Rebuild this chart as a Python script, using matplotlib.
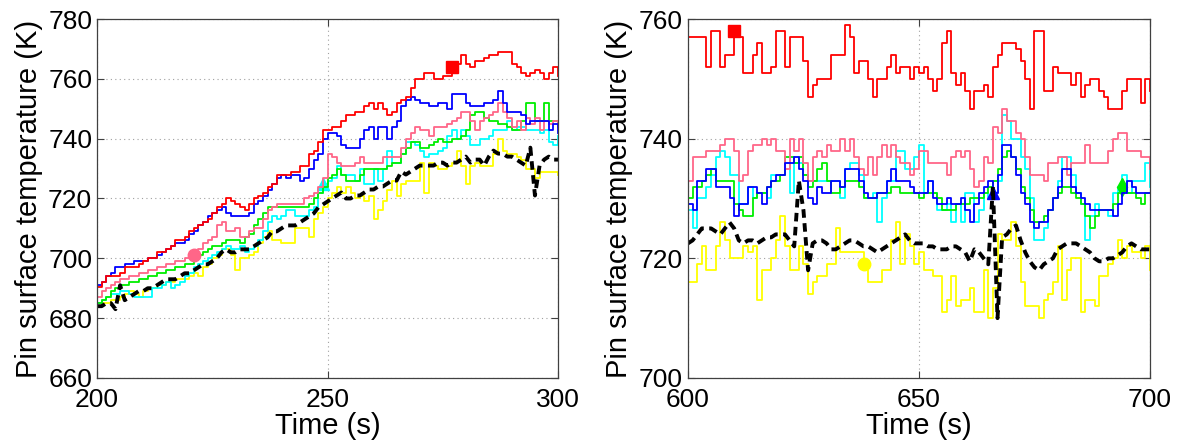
import numpy as np
import matplotlib
matplotlib.use('Agg')
import matplotlib.pyplot as plt

plt.rcParams['font.family'] = ['Liberation Sans', 'DejaVu Sans']

# time axes (s)
t_early = np.arange(200, 301)
t_late = np.arange(600, 701)

# pin surface temperature (K), 200-300 s
red_early = [690.5, 692, 694, 694, 694, 695, 697, 697, 697, 698,
             699, 700, 700, 702, 702, 703, 704, 706, 706, 707,
             709, 710, 711, 712, 713, 715, 717, 718, 720, 719,
             718, 717, 716, 718, 720, 721, 722, 724, 725, 728,
             728, 728, 729, 729, 731, 731, 735, 736, 739, 743,
             743, 744, 744, 746, 748, 748, 749, 749, 751, 752,
             750, 752, 750, 748, 749, 752, 753, 754, 757, 760,
             760, 762, 762, 760, 760, 761, 761, 764, 765, 768,
             765, 764, 766, 766, 767, 768, 768, 769, 769, 769,
             765, 764, 762, 761, 762, 763, 762, 760, 762, 764,
             761]
blue_early = [691, 692, 694, 695, 697, 697, 698, 698, 699, 699,
              699, 700, 700, 701, 702, 703, 704, 705, 705, 706,
              708, 709, 711, 712, 714, 715, 716, 717, 715, 714,
              714, 714, 714, 715, 718, 719, 721, 723, 725, 727,
              728, 727, 728, 728, 726, 727, 730, 733, 735, 740,
              742, 742, 741, 738, 737, 737, 737, 740, 743, 744,
              740, 744, 744, 740, 744, 746, 751, 753, 754, 753,
              752, 752, 751, 751, 752, 752, 750, 755, 755, 755,
              752, 751, 751, 751, 752, 752, 753, 756, 752, 749,
              749, 749, 748, 745, 746, 746, 746, 746, 743, 745,
              742]
pink_early = [687, 689, 690, 691, 692, 693, 693, 694, 694, 695,
              695, 696, 696, 697, 697, 698, 698, 699, 699, 700,
              701, 701, 703, 705, 706, 707, 711, 712, 709, 709,
              710, 707, 707, 709, 710, 710, 713, 716, 717, 718,
              718, 718, 718, 718, 718, 720, 721, 722, 724, 727,
              735, 734, 732, 731, 731, 731, 732, 734, 732, 732,
              732, 732, 734, 734, 734, 734, 737, 740, 742, 744,
              743, 743, 741, 744, 744, 744, 745, 746, 747, 749,
              749, 746, 743, 746, 747, 748, 749, 752, 749, 747,
              744, 746, 743, 747, 745, 747, 743, 746, 745, 746,
              744]
green_early = [685, 686, 687, 689, 690, 691, 691, 692, 692, 693,
               693, 694, 694, 695, 695, 696, 696, 697, 697, 698,
               698, 700, 701, 702, 703, 704, 704, 705, 706, 706,
               706, 705, 707, 708, 711, 713, 715, 717, 717, 717,
               717, 717, 717, 717, 717, 717, 718, 720, 722, 724,
               727, 728, 730, 728, 726, 726, 726, 728, 730, 730,
               730, 730, 730, 731, 732, 732, 735, 737, 739, 739,
               737, 737, 738, 739, 740, 739, 739, 740, 740, 741,
               743, 748, 749, 749, 747, 746, 746, 745, 745, 744,
               743, 743, 746, 752, 752, 746, 746, 752, 746, 746,
               745]
cyan_early = [685, 686, 687, 688, 688, 689, 689, 688, 687, 687,
              687, 687, 690, 690, 691, 692, 690, 691, 692, 694,
              695, 697, 698, 699, 700, 701, 702, 703, 704, 703,
              703, 704, 702, 703, 704, 706, 709, 712, 714, 713,
              714, 716, 716, 714, 714, 714, 716, 717, 722, 725,
              726, 727, 731, 728, 728, 728, 726, 730, 725, 725,
              730, 726, 730, 736, 732, 732, 735, 739, 739, 738,
              736, 734, 735, 735, 736, 737, 741, 743, 740, 743,
              741, 738, 738, 740, 740, 741, 743, 743, 743, 746,
              743, 744, 744, 743, 743, 743, 742, 743, 739, 738,
              741]
yellow_early = [684, 685, 685, 686, 686, 687, 688, 689, 688, 687,
                689, 690, 690, 691, 691, 692, 692, 693, 693, 693,
                694, 695, 694, 697, 698, 700, 701, 703, 703, 701,
                696, 700, 700, 701, 702, 705, 707, 709, 706, 706,
                705, 705, 705, 710, 710, 710, 707, 713, 715, 717,
                720, 722, 724, 722, 724, 722, 720, 721, 719, 721,
                713, 716, 719, 723, 726, 721, 725, 726, 726, 726,
                732, 722, 732, 731, 730, 730, 731, 732, 736, 731,
                725, 731, 732, 731, 731, 731, 735, 740, 736, 735,
                735, 734, 733, 730, 730, 727, 729, 729, 729, 729,
                728]
mean_early = [684, 684, 685, 685, 683, 691, 686, 687, 688, 689,
              689, 690, 690, 691, 692, 693, 693, 693, 694, 695,
              695, 696, 697, 698, 698, 699, 700, 702, 703, 702,
              702, 703, 703, 703, 704, 705, 706, 707, 709, 709,
              710, 711, 711, 711, 712, 713, 714, 715, 717, 718,
              719, 720, 721, 722, 720, 720, 721, 721, 722, 723,
              723, 724, 724, 725, 726, 726, 729, 728, 729, 730,
              731, 731, 731, 731, 732, 732, 731, 732, 732, 733,
              734, 732, 733, 733, 731, 734, 736, 735, 735, 734,
              734, 733, 732, 731, 737, 721, 731, 733, 734, 733,
              733]

# pin surface temperature (K), 600-700 s
red_late = [757, 757, 757, 757, 752, 758, 758, 752, 754, 754,
            758, 757, 751, 751, 754, 756, 751, 751, 752, 758,
            758, 752, 757, 757, 757, 753, 747, 749, 750, 750,
            750, 754, 754, 754, 759, 757, 751, 753, 753, 750,
            747, 750, 750, 752, 754, 751, 752, 752, 750, 752,
            751, 752, 750, 748, 750, 756, 758, 751, 749, 751,
            748, 745, 748, 748, 749, 747, 752, 754, 756, 756,
            756, 755, 753, 750, 745, 758, 758, 748, 748, 752,
            751, 751, 751, 749, 751, 747, 749, 750, 750, 748,
            747, 745, 745, 745, 748, 750, 750, 750, 746, 750,
            748]
pink_late = [733, 737, 737, 737, 738, 738, 738, 739, 740, 740,
             738, 733, 734, 738, 739, 739, 740, 739, 740, 738,
             738, 735, 740, 738, 740, 736, 733, 737, 738, 737,
             739, 738, 738, 740, 738, 740, 737, 735, 734, 737,
             734, 737, 739, 737, 739, 737, 736, 736, 734, 735,
             738, 738, 736, 736, 736, 736, 734, 737, 738, 737,
             738, 735, 732, 733, 737, 736, 742, 741, 745, 743,
             743, 741, 740, 737, 734, 734, 734, 733, 736, 736,
             737, 737, 734, 736, 736, 736, 739, 736, 736, 736,
             736, 738, 740, 741, 741, 738, 738, 738, 737, 737,
             735]
blue_late = [729, 728, 733, 733, 735, 735, 732, 732, 732, 730,
             727, 729, 729, 732, 732, 731, 729, 732, 733, 734,
             734, 736, 736, 737, 735, 733, 730, 729, 732, 731,
             731, 733, 733, 732, 735, 735, 735, 733, 731, 730,
             730, 731, 731, 733, 735, 733, 733, 733, 732, 731,
             731, 731, 733, 730, 729, 729, 730, 729, 729, 730,
             728, 726, 729, 731, 732, 733, 731, 734, 739, 739,
             737, 734, 731, 729, 726, 725, 726, 726, 728, 730,
             732, 735, 735, 732, 731, 730, 729, 728, 728, 728,
             728, 728, 727, 729, 731, 733, 732, 731, 731, 731,
             731]
green_late = [730, 732, 732, 733, 734, 735, 733, 733, 733, 733,
              729, 728, 727, 727, 730, 731, 731, 732, 733, 733,
              734, 737, 737, 736, 737, 734, 732, 733, 735, 736,
              733, 731, 731, 732, 733, 733, 733, 732, 730, 730,
              730, 731, 731, 731, 732, 732, 731, 731, 731, 731,
              730, 731, 731, 731, 730, 728, 728, 728, 729, 729,
              729, 730, 730, 730, 731, 732, 733, 735, 737, 738,
              737, 735, 732, 730, 728, 726, 726, 727, 728, 730,
              731, 732, 732, 731, 730, 729, 727, 725, 727, 728,
              728, 728, 729, 731, 732, 731, 731, 730, 729, 731,
              731]
cyan_late = [728, 725, 730, 730, 732, 734, 737, 738, 737, 734,
             734, 729, 729, 732, 730, 731, 731, 730, 734, 734,
             734, 736, 731, 736, 736, 734, 733, 733, 733, 733,
             733, 733, 733, 730, 735, 736, 736, 734, 730, 730,
             731, 726, 730, 733, 733, 738, 738, 735, 735, 737,
             739, 731, 733, 731, 728, 728, 729, 726, 729, 726,
             731, 731, 726, 728, 731, 730, 731, 733, 744, 743,
             740, 740, 737, 735, 730, 723, 723, 725, 728, 730,
             733, 737, 737, 734, 731, 729, 723, 727, 729, 728,
             728, 727, 731, 732, 734, 731, 733, 733, 733, 736,
             732]
yellow_late = [716, 716, 719, 722, 718, 718, 722, 726, 723, 720,
               720, 720, 722, 721, 722, 713, 718, 718, 720, 723,
               727, 722, 718, 718, 722, 719, 714, 716, 717, 717,
               719, 719, 725, 721, 721, 721, 721, 721, 719, 716,
               716, 716, 718, 718, 723, 726, 719, 724, 722, 719,
               721, 718, 718, 717, 717, 711, 713, 717, 712, 713,
               713, 715, 711, 711, 718, 710, 715, 724, 723, 723,
               726, 722, 716, 712, 712, 712, 710, 713, 714, 716,
               722, 713, 718, 720, 720, 711, 713, 713, 712, 717,
               717, 719, 720, 723, 720, 722, 721, 721, 720, 722,
               718]
mean_late = [722.5, 723, 724, 725, 725, 725, 724.5, 724, 725, 726,
             725, 723, 722.5, 723, 723, 722.5, 723, 723.5, 723.5, 724,
             724, 724, 723, 722, 733, 728, 718, 722.5, 723, 723,
             722.5, 721.5, 721.5, 722, 722.5, 723, 723, 722.5, 722, 722,
             721.5, 721, 721.5, 722, 722.5, 723, 723.5, 724, 723, 722.5,
             722.5, 722.5, 722, 722, 721.5, 721.5, 721.5, 722, 722, 721.5,
             721, 719.5, 721.5, 721, 720, 719, 732, 710, 723.5, 724,
             725, 725.5, 723, 721, 719.5, 718.5, 718, 719, 719.5, 720,
             721.5, 722, 722.5, 722.5, 722.5, 722, 721.5, 721, 720, 719.5,
             719.5, 720, 720, 720.5, 721, 722, 722.5, 722, 721.5, 721.5,
             721.5]

fig = plt.figure(figsize=(11.88, 4.45), dpi=100)
ax1 = fig.add_axes([0.0817, 0.1506, 0.388, 0.8067])
ax2 = fig.add_axes([0.5791, 0.1506, 0.3889, 0.8067])

colors = {'red': '#ff0000', 'blue': '#0000ff', 'green': '#00ee00',
          'pink': '#ff6688', 'cyan': '#00ffff', 'yellow': '#ffff00'}


def draw_panel(ax, t, series, marks):
    for name, vals in series:
        kw = {}
        if name in marks:
            mk, idx = marks[name]
            kw = dict(marker=mk, markevery=[idx], markersize=9,
                      markerfacecolor=colors[name], markeredgecolor=colors[name])
        ax.plot(t, vals, color=colors[name], lw=1.3, drawstyle='steps-post', **kw)


draw_panel(ax1, t_early,
           [('yellow', yellow_early), ('cyan', cyan_early), ('green', green_early),
            ('pink', pink_early), ('blue', blue_early), ('red', red_early)],
           {'red': ('s', 77), 'pink': ('o', 21), 'cyan': ('^', 49)})
ax1.plot(t_early, mean_early, color='black', lw=2.8, dashes=(2.2, 1.4))

draw_panel(ax2, t_late,
           [('yellow', yellow_late), ('cyan', cyan_late), ('green', green_late),
            ('pink', pink_late), ('blue', blue_late), ('red', red_late)],
           {'red': ('s', 10), 'yellow': ('o', 38), 'blue': ('^', 66), 'green': ('d', 94)})
ax2.plot(t_late, mean_late, color='black', lw=2.8, dashes=(2.2, 1.4))

for ax, xlim, ylim, yt in [(ax1, (200, 300), (660, 780), range(660, 781, 20)),
                           (ax2, (600, 700), (700, 760), range(700, 761, 20))]:
    ax.set_xlim(*xlim)
    ax.set_ylim(*ylim)
    ax.set_xticks([xlim[0], (xlim[0] + xlim[1]) // 2, xlim[1]])
    ax.set_yticks(list(yt))
    ax.grid(True, linestyle=(0, (1, 3)), color='#a0a0a0', lw=0.8)
    ax.tick_params(direction='in', length=5, width=0.8, labelsize=19,
                   top=True, right=True, colors='#404040', labelcolor='black')
    ax.tick_params(axis='x', pad=7)
    for label in ax.get_yticklabels():
        label.set_verticalalignment('center_baseline')
    for s in ax.spines.values():
        s.set_color('#404040')
        s.set_linewidth(0.9)
    ax.set_xlabel('Time (s)', fontsize=21, labelpad=0)
    ax.set_ylabel('Pin surface temperature (K)', fontsize=21, labelpad=4)

fig.savefig('out.png', dpi=100)
